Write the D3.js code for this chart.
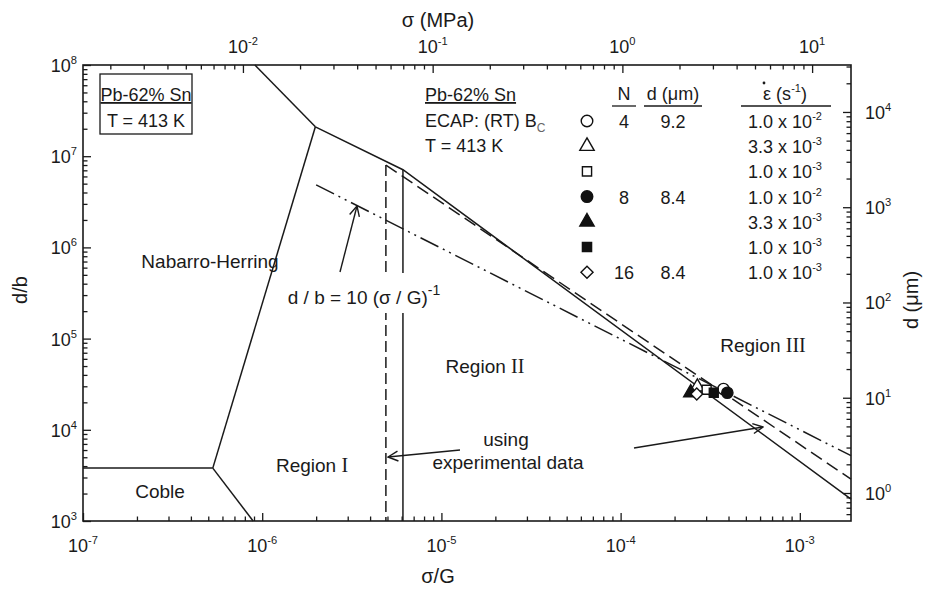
<!DOCTYPE html>
<html><head><meta charset="utf-8">
<script src="https://cdn.jsdelivr.net/npm/d3@7"></script>
<style>
body{margin:0;background:#fff}
text{font-family:Arial,"Liberation Sans",sans-serif;fill:#1a1a1a}
</style>
</head><body>
<svg id="c" width="933" height="591"></svg>
<script>
// ---------- data ----------
const bottomTicks = [1e-7, 1e-6, 1e-5, 1e-4, 1e-3];
const bottomTickExp = ["-7", "-6", "-5", "-4", "-3"];
const leftTicks = [1e3, 1e4, 1e5, 1e6, 1e7, 1e8];
const leftTickExp = ["3", "4", "5", "6", "7", "8"];
const topTicks = [1e-2, 1e-1, 1e0, 1e1];
const topTickExp = ["-2", "-1", "0", "1"];
const rightTicks = [1e0, 1e1, 1e2, 1e3, 1e4];
const rightTickExp = ["0", "1", "2", "3", "4"];

// boundary lines [sigma/G, d/b]
const cobleNH = [[1e-7, 3.8e3], [5.3e-7, 3.8e3]];
const cobleRegionI = [[5.3e-7, 3.8e3], [8.9e-7, 1e3]];
const nhRegionI = [[5.3e-7, 3.8e3], [1.98e-6, 2.1e7]];
const nhRegionII = [[9.1e-7, 1e8], [1.98e-6, 2.1e7]];
const solidBoundary = [[1.98e-6, 2.1e7], [6.1e-6, 7.1e6], [1.93e-3, 1.74e3]];
const solidVertical = [[6.1e-6, 7.1e6], [6.1e-6, 1e3]];
const dashedBoundary = [[4.9e-6, 8.0e6], [1.93e-3, 2.88e3]];
const dashedVertical = [[4.9e-6, 8.0e6], [4.9e-6, 1e3]];
const dashDotLine = [[2.0e-6, 4.85e6], [1.93e-3, 5.2e3]];

// experimental points
const ptSigmaG = [3.75e-4, 2.68e-4, 3.02e-4, 3.94e-4, 2.46e-4, 3.31e-4, 2.66e-4];
const ptDb     = [2.8e4, 2.95e4, 2.75e4, 2.55e4, 2.55e4, 2.55e4, 2.47e4];
const ptShape  = ["circle", "triangle", "square", "circle", "triangle", "square", "diamond"];
const ptFilled = [false, false, false, true, true, true, false];

// legend table
const legN    = ["4", "", "", "8", "", "", "16"];
const legD    = ["9.2", "", "", "8.4", "", "", "8.4"];
const legRate = ["1.0", "3.3", "1.0", "1.0", "3.3", "1.0", "1.0"];
const legRateExp = ["-2", "-3", "-3", "-2", "-3", "-3", "-3"];

// ---------- layout ----------
const L = 83, R = 851, T = 65, B = 521;
const svg = d3.select("#c");
const x = d3.scaleLog().domain([1e-7, 1.93e-3]).range([L, R]);
const y = d3.scaleLog().domain([1e3, 1e8]).range([B, T]);
const xTop = d3.scaleLog().domain([Math.pow(10, -2.843), Math.pow(10, 1.205)]).range([L, R]);
const yR = d3.scaleLog().domain([Math.pow(10, -0.294), Math.pow(10, 4.493)]).range([B, T]);

function minors(scale) {
  const [a, b] = scale.domain();
  const out = [];
  for (let e = Math.floor(Math.log10(a)); e <= Math.ceil(Math.log10(b)); e++) {
    for (let k = 2; k <= 9; k++) {
      const v = k * Math.pow(10, e);
      if (v > a && v < b) out.push(v);
    }
  }
  return out;
}
function axisG(axis, tx, ty) {
  const g = svg.append("g").attr("transform", `translate(${tx},${ty})`).call(axis);
  g.select(".domain").remove();
  g.selectAll("line").attr("stroke", "#1a1a1a").attr("stroke-width", 1.3);
  return g;
}
axisG(d3.axisBottom(x).tickValues(bottomTicks).tickSize(-8).tickFormat(""), 0, B);
axisG(d3.axisBottom(x).tickValues(minors(x)).tickSize(-4.5).tickFormat(""), 0, B);
axisG(d3.axisLeft(y).tickValues(leftTicks).tickSize(-8).tickFormat(""), L, 0);
axisG(d3.axisLeft(y).tickValues(minors(y)).tickSize(-4.5).tickFormat(""), L, 0);
axisG(d3.axisTop(xTop).tickValues(topTicks).tickSize(-8).tickFormat(""), 0, T);
axisG(d3.axisTop(xTop).tickValues(minors(xTop)).tickSize(-4.5).tickFormat(""), 0, T);
axisG(d3.axisRight(yR).tickValues(rightTicks).tickSize(-8).tickFormat(""), R, 0);
axisG(d3.axisRight(yR).tickValues(minors(yR)).tickSize(-4.5).tickFormat(""), R, 0);

svg.append("rect").attr("x", L).attr("y", T).attr("width", R - L).attr("height", B - T)
  .attr("fill", "none").attr("stroke", "#1a1a1a").attr("stroke-width", 1.6);

function powLabel(px, py, exp, anchor, size) {
  const t = svg.append("text").attr("x", px).attr("y", py).attr("text-anchor", anchor)
    .attr("font-size", size);
  t.append("tspan").text("10");
  t.append("tspan").attr("dy", -8).attr("font-size", size * 0.62).text(exp);
  return t;
}
bottomTicks.forEach((v, i) => powLabel(x(v), B + 31, bottomTickExp[i], "middle", 18));
leftTicks.forEach((v, i) => powLabel(L - 6, y(v) + 7, leftTickExp[i], "end", 18));
topTicks.forEach((v, i) => powLabel(xTop(v), T - 12, topTickExp[i], "middle", 18));
rightTicks.forEach((v, i) => powLabel(R + 14, yR(v) + 7, rightTickExp[i], "start", 18));

// axis titles
svg.append("text").attr("x", 438).attr("y", 583).attr("text-anchor", "middle").attr("font-size", 20).text("σ/G");
svg.append("text").attr("x", 438).attr("y", 27).attr("text-anchor", "middle").attr("font-size", 20).text("σ (MPa)");
svg.append("text").attr("transform", "translate(27,290) rotate(-90)").attr("text-anchor", "middle").attr("font-size", 20).text("d/b");
svg.append("text").attr("transform", "translate(918,300) rotate(-90)").attr("text-anchor", "middle").attr("font-size", 20).text("d (μm)");

// ---------- lines ----------
const line = d3.line().x(d => x(d[0])).y(d => y(d[1]));
const plot = svg.append("g");
function drawLine(data, dash) {
  plot.append("path").attr("d", line(data)).attr("fill", "none").attr("stroke", "#1a1a1a")
    .attr("stroke-width", 1.5).attr("stroke-dasharray", dash || null);
}
[cobleNH, cobleRegionI, nhRegionI, nhRegionII, solidBoundary, solidVertical].forEach(d => drawLine(d));
drawLine(dashedBoundary, "13,6");
drawLine(dashedVertical, "11,5");
drawLine(dashDotLine, "20,5,2,5,2,5");

// ---------- points ----------
function symType(s) {
  return s === "circle" ? d3.symbolCircle : s === "triangle" ? d3.symbolTriangle : d3.symbolSquare;
}
function drawMarker(g, px, py, shape, filled, scale) {
  const size = shape === "circle" ? 100 : shape === "triangle" ? 85 : shape === "square" ? 80 : 70;
  g.append("path")
    .attr("d", d3.symbol().type(symType(shape)).size(size * scale)())
    .attr("transform", `translate(${px},${py})` + (shape === "diamond" ? " rotate(45)" : ""))
    .attr("fill", filled ? "#111" : "#fff").attr("stroke", "#111").attr("stroke-width", 1.4);
}
const pts = svg.append("g");
ptSigmaG.forEach((v, i) => drawMarker(pts, x(v), y(ptDb[i]), ptShape[i], ptFilled[i], 1));

// ---------- white label box for formula ----------
svg.append("rect").attr("x", 290).attr("y", 273).attr("width", 148).attr("height", 40).attr("fill", "#fff");
const f = svg.append("text").attr("x", 364).attr("y", 304).attr("text-anchor", "middle").attr("font-size", 19);
f.append("tspan").text("d / b = 10 (σ / G)");
f.append("tspan").attr("dy", -9).attr("font-size", 14).text("-1");

// arrows
const defs = svg.append("defs");
defs.append("marker").attr("id", "ah").attr("viewBox", "0 0 12 12").attr("refX", 11).attr("refY", 6)
  .attr("markerWidth", 12).attr("markerHeight", 12).attr("markerUnits", "userSpaceOnUse").attr("orient", "auto")
  .append("path").attr("d", "M1,1 L11,6 L1,11").attr("fill", "none").attr("stroke", "#1a1a1a").attr("stroke-width", 1.4);
function arrow(x1, y1, x2, y2) {
  svg.append("line").attr("x1", x1).attr("y1", y1).attr("x2", x2).attr("y2", y2)
    .attr("stroke", "#1a1a1a").attr("stroke-width", 1.4).attr("marker-end", "url(#ah)");
}
arrow(340, 272, 357, 206);
arrow(460, 450, 388, 457);
arrow(634, 448, 763, 427);

// ---------- region labels ----------
function regionLabel(px, py, num) {
  const t = svg.append("text").attr("x", px).attr("y", py).attr("text-anchor", "middle").attr("font-size", 19);
  t.append("tspan").text("Region ");
  t.append("tspan").attr("font-family", "'Liberation Serif','Times New Roman',serif").attr("font-size", 20).text(num);
}
svg.append("text").attr("x", 210).attr("y", 268).attr("text-anchor", "middle").attr("font-size", 19).text("Nabarro-Herring");
svg.append("text").attr("x", 160).attr("y", 498).attr("text-anchor", "middle").attr("font-size", 19).text("Coble");
regionLabel(312, 472, "I");
regionLabel(485, 373, "II");
regionLabel(763, 352, "III");
svg.append("text").attr("x", 506).attr("y", 446).attr("text-anchor", "middle").attr("font-size", 19).text("using");
svg.append("text").attr("x", 508).attr("y", 469).attr("text-anchor", "middle").attr("font-size", 19).text("experimental data");

// ---------- left box ----------
svg.append("rect").attr("x", 100).attr("y", 74).attr("width", 92).attr("height", 60)
  .attr("fill", "#fff").attr("stroke", "#1a1a1a").attr("stroke-width", 1.3);
svg.append("text").attr("x", 146).attr("y", 101).attr("text-anchor", "middle").attr("font-size", 18)
  .attr("text-decoration", "underline").text("Pb-62% Sn");
svg.append("text").attr("x", 146).attr("y", 127).attr("text-anchor", "middle").attr("font-size", 18).text("T = 413 K");

// ---------- legend block ----------
const lx = 425;
svg.append("text").attr("x", lx).attr("y", 101).attr("font-size", 18).attr("text-decoration", "underline").text("Pb-62% Sn");
const ec = svg.append("text").attr("x", lx).attr("y", 127).attr("font-size", 18);
ec.append("tspan").text("ECAP: (RT) B");
ec.append("tspan").attr("dy", 5).attr("font-size", 12).attr("fill", "#666").text("C");
svg.append("text").attr("x", lx).attr("y", 152).attr("font-size", 18).text("T = 413 K");

const colM = 587, colN = 624, colD = 673, colE = 785;
const hdrY = 100;
svg.append("text").attr("x", colN).attr("y", hdrY).attr("text-anchor", "middle").attr("font-size", 18).text("N");
svg.append("text").attr("x", colD).attr("y", hdrY).attr("text-anchor", "middle").attr("font-size", 18).text("d (μm)");
const eh = svg.append("text").attr("x", colE).attr("y", hdrY).attr("text-anchor", "middle").attr("font-size", 18);
eh.append("tspan").text("ε (s");
eh.append("tspan").attr("dy", -8).attr("font-size", 11).text("-1");
eh.append("tspan").attr("dy", 8).text(")");
svg.append("circle").attr("cx", colE - 21).attr("cy", hdrY - 17).attr("r", 1.4).attr("fill", "#1a1a1a");
[[colN - 12, colN + 12], [colD - 29, colD + 29], [colE - 44, colE + 46]].forEach(s =>
  svg.append("line").attr("x1", s[0]).attr("x2", s[1]).attr("y1", hdrY + 6).attr("y2", hdrY + 6)
    .attr("stroke", "#1a1a1a").attr("stroke-width", 1.3));
const leg = svg.append("g");
ptShape.forEach((s, i) => {
  const ry = 121 + i * 25.2;
  drawMarker(leg, colM, ry, s, ptFilled[i], 1.05);
  if (legN[i]) svg.append("text").attr("x", colN).attr("y", ry + 7).attr("text-anchor", "middle").attr("font-size", 18).text(legN[i]);
  if (legD[i]) svg.append("text").attr("x", colD).attr("y", ry + 7).attr("text-anchor", "middle").attr("font-size", 18).text(legD[i]);
  const t = svg.append("text").attr("x", colE).attr("y", ry + 7).attr("text-anchor", "middle").attr("font-size", 18);
  t.append("tspan").text(legRate[i] + " x 10");
  t.append("tspan").attr("dy", -8).attr("font-size", 11).text(legRateExp[i]);
});
</script>
</body></html>
